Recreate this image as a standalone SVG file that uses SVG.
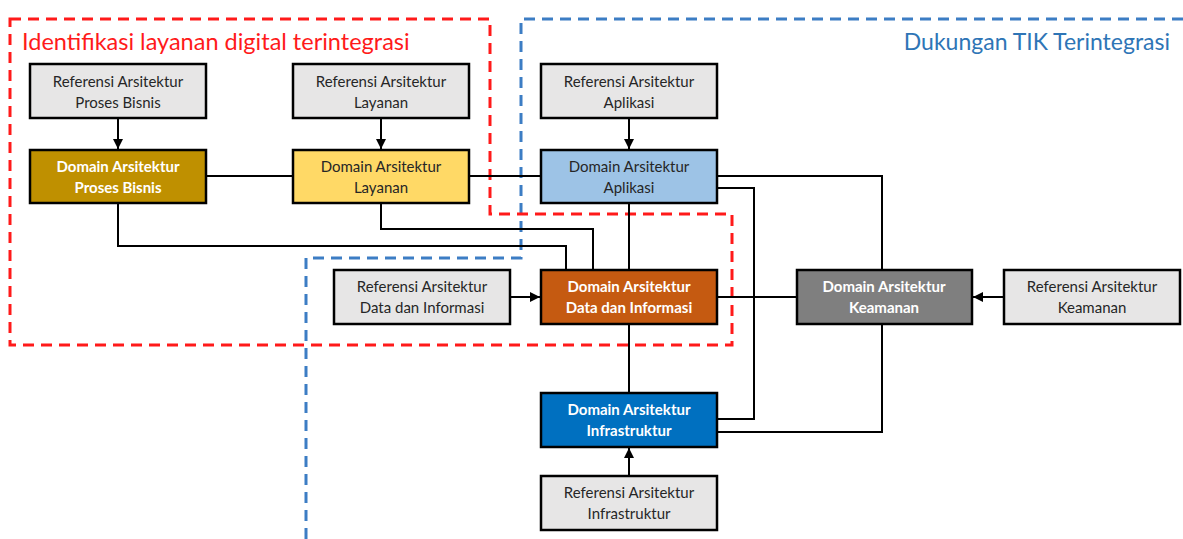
<svg xmlns="http://www.w3.org/2000/svg" width="1183" height="539" viewBox="0 0 1183 539">
<style>
.box{stroke:#000;stroke-width:2.5}
.ref{fill:#E7E6E6}
.rt{font-family:Lato,"Open Sans",sans-serif;font-size:15px;fill:#262626;text-anchor:middle}
.dt{font-family:Lato,"Open Sans",sans-serif;font-size:15px;font-weight:bold;fill:#fff;text-anchor:middle}
.ln{fill:none;stroke:#000;stroke-width:2}
.red{fill:none;stroke:#FF1A1A;stroke-width:3;stroke-dasharray:11 7}
.blue{fill:none;stroke:#3C7DC4;stroke-width:3;stroke-dasharray:11 7}
</style>
<defs>
<marker id="ah" viewBox="0 0 10 10" refX="10" refY="5" markerWidth="5" markerHeight="5" orient="auto">
<path d="M0,0 L10,5 L0,10 z" fill="#000"/>
</marker>
</defs>
<rect width="1183" height="539" fill="#fff"/>
<g id="regions">
<path class="blue" d="M1183,19 L521,19 L521,258 L306,258 L306,539"/>
<path class="red" d="M10,19 L490,19 L490,214 L732,214 L732,345 L10,345 Z"/>
<text x="22" y="50" font-family="Lato,'Open Sans',sans-serif" font-size="23.5" fill="#FF1A1A">Identifikasi layanan digital terintegrasi</text>
<text x="1170" y="50" font-family="Lato,'Open Sans',sans-serif" font-size="23" fill="#2E75B6" text-anchor="end">Dukungan TIK Terintegrasi</text>
</g>
<g id="connectors">
<line class="ln" x1="118" y1="118" x2="118" y2="149" marker-end="url(#ah)"/>
<line class="ln" x1="381" y1="118" x2="381" y2="149" marker-end="url(#ah)"/>
<line class="ln" x1="629" y1="118" x2="629" y2="149" marker-end="url(#ah)"/>
<line class="ln" x1="510" y1="297" x2="540" y2="297" marker-end="url(#ah)"/>
<line class="ln" x1="1004" y1="297" x2="973" y2="297" marker-end="url(#ah)"/>
<line class="ln" x1="629" y1="476" x2="629" y2="448" marker-end="url(#ah)"/>
<line class="ln" x1="206" y1="176" x2="293" y2="176"/>
<line class="ln" x1="469" y1="176" x2="541" y2="176"/>
<path class="ln" d="M118,203 V246 H566 V270"/>
<path class="ln" d="M381,203 V229 H593 V270"/>
<line class="ln" x1="629" y1="203" x2="629" y2="270"/>
<line class="ln" x1="629" y1="324" x2="629" y2="393"/>
<line class="ln" x1="717" y1="297" x2="797" y2="297"/>
<path class="ln" d="M717,176 H882 V270"/>
<path class="ln" d="M717,188 H754 V419 H717"/>
<path class="ln" d="M882,324 V432 H717"/>
</g>
<g id="ref-proses-bisnis"><rect class="box ref" x="30" y="64" width="176" height="54"/><text class="rt" x="118" y="87">Referensi Arsitektur</text><text class="rt" x="118" y="108">Proses Bisnis</text></g>
<g id="dom-proses-bisnis"><rect class="box" fill="#BF9000" x="30" y="150" width="176" height="53"/><text class="dt" x="118" y="172">Domain Arsitektur</text><text class="dt" x="118" y="193">Proses Bisnis</text></g>
<g id="ref-layanan"><rect class="box ref" x="293" y="64" width="176" height="54"/><text class="rt" x="381" y="87">Referensi Arsitektur</text><text class="rt" x="381" y="108">Layanan</text></g>
<g id="dom-layanan"><rect class="box" fill="#FFD966" x="293" y="150" width="176" height="53"/><text class="rt" x="381" y="172">Domain Arsitektur</text><text class="rt" x="381" y="193">Layanan</text></g>
<g id="ref-aplikasi"><rect class="box ref" x="541" y="64" width="176" height="54"/><text class="rt" x="629" y="87">Referensi Arsitektur</text><text class="rt" x="629" y="108">Aplikasi</text></g>
<g id="dom-aplikasi"><rect class="box" fill="#9DC3E6" x="541" y="150" width="176" height="53"/><text class="rt" x="629" y="172">Domain Arsitektur</text><text class="rt" x="629" y="193">Aplikasi</text></g>
<g id="ref-data"><rect class="box ref" x="334" y="270" width="176" height="54"/><text class="rt" x="422" y="292">Referensi Arsitektur</text><text class="rt" x="422" y="313">Data dan Informasi</text></g>
<g id="dom-data"><rect class="box" fill="#C55A11" x="541" y="270" width="176" height="54"/><text class="dt" x="629" y="292">Domain Arsitektur</text><text class="dt" x="629" y="313">Data dan Informasi</text></g>
<g id="dom-keamanan"><rect class="box" fill="#7F7F7F" x="797" y="270" width="175" height="54"/><text class="dt" x="884" y="292">Domain Arsitektur</text><text class="dt" x="884" y="313">Keamanan</text></g>
<g id="ref-keamanan"><rect class="box ref" x="1004" y="270" width="176" height="54"/><text class="rt" x="1092" y="292">Referensi Arsitektur</text><text class="rt" x="1092" y="313">Keamanan</text></g>
<g id="dom-infrastruktur"><rect class="box" fill="#0070C0" x="541" y="393" width="176" height="54"/><text class="dt" x="629" y="415">Domain Arsitektur</text><text class="dt" x="629" y="436">Infrastruktur</text></g>
<g id="ref-infrastruktur"><rect class="box ref" x="541" y="476" width="176" height="54"/><text class="rt" x="629" y="498">Referensi Arsitektur</text><text class="rt" x="629" y="519">Infrastruktur</text></g>
</svg>
